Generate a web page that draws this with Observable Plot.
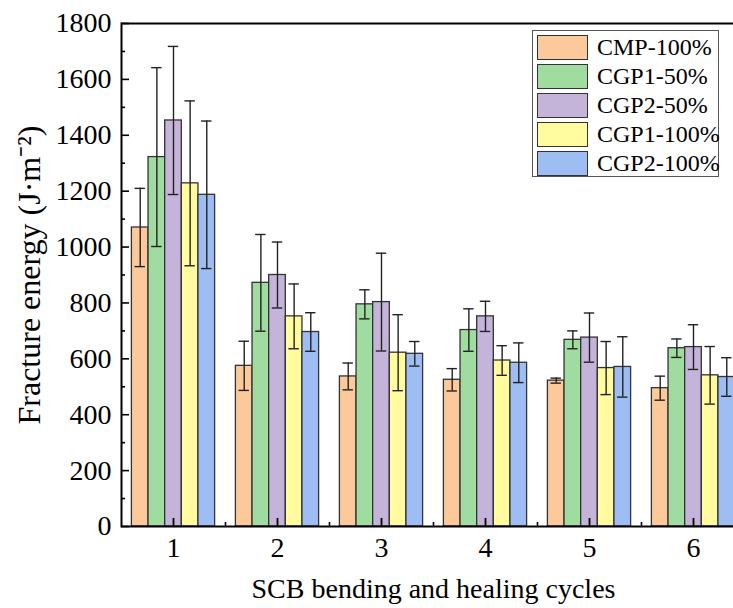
<!DOCTYPE html>
<html><head><meta charset="utf-8">
<script src="https://cdn.jsdelivr.net/npm/d3@7"></script>
<script src="https://cdn.jsdelivr.net/npm/@observablehq/plot@0.6"></script>
<style>
html,body{margin:0;padding:0;overflow:hidden;background:#fff;}
#wrap{position:relative;width:733px;height:608px;overflow:hidden;}
#legend{position:absolute;left:532px;top:30px;width:185px;height:145px;border:1.5px solid #555;background:#fff;font-family:"Liberation Serif","Times New Roman",serif;font-size:24px;color:#000;}
.row{position:absolute;left:4px;height:26px;display:flex;align-items:center;white-space:nowrap;}
.sw{width:49px;height:23px;border:1.5px solid #333;margin-right:9px;box-sizing:content-box;}
</style></head><body><div id="wrap"></div>
<script>
const cycles = [1, 2, 3, 4, 5, 6];
const series = ["CMP-100%", "CGP1-50%", "CGP2-50%", "CGP1-100%", "CGP2-100%"];
const colors = ["#FCCA9A", "#A0DBA0", "#C4B4DA", "#FFFB9E", "#9DBDF3"];

const CMP100   = [1070, 575, 537, 525, 522, 495];
const CGP1_50  = [1322, 872, 795, 703, 668, 638];
const CGP2_50  = [1453, 900, 803, 752, 676, 642];
const CGP1_100 = [1228, 752, 622, 594, 567, 541];
const CGP2_100 = [1187, 696, 618, 586, 571, 535];

const errCMP100   = [140, 88, 48, 40, 9, 43];
const errCGP1_50  = [320, 173, 52, 76, 32, 33];
const errCGP2_50  = [265, 118, 175, 54, 88, 80];
const errCGP1_100 = [295, 116, 136, 53, 95, 103];
const errCGP2_100 = [264, 69, 44, 71, 108, 69];

const yTicks = [0, 200, 400, 600, 800, 1000, 1200, 1400, 1600, 1800];
const yMinor = [100, 300, 500, 700, 900, 1100, 1300, 1500, 1700];
const xMinor = [1.5, 2.5, 3.5, 4.5, 5.5];
const xTitle = "SCB bending and healing cycles";
const yTitle = "Fracture energy (J·m⁻²)";

const values = [CMP100, CGP1_50, CGP2_50, CGP1_100, CGP2_100];
const errors = [errCMP100, errCGP1_50, errCGP2_50, errCGP1_100, errCGP2_100];

// grouped layout: 5 bars per cycle occupy 0.8 of a unit
const slot = 0.16, groupW = slot * series.length;
const table = [];
series.forEach((s, k) => cycles.forEach((c, i) => {
  const x1 = c - groupW / 2 + k * slot;
  table.push({series: s, cycle: c, x1, x2: x1 + slot, xc: x1 + slot / 2,
    value: values[k][i], lo: values[k][i] - errors[k][i], hi: values[k][i] + errors[k][i]});
}));
const cap = 0.05;

const chart = Plot.plot({
  width: 733, height: 608,
  marginLeft: 121, marginRight: -12, marginTop: 23, marginBottom: 82,
  x: {type: "linear", domain: [0.5, 6.5]},
  y: {domain: [0, 1800]},
  color: {domain: series, range: colors},
  style: {fontFamily: "'Liberation Serif', 'Times New Roman', serif", fontSize: "27px", color: "#000", background: "#fff", overflow: "hidden"},
  marks: [
    Plot.rectY(table, {x1: "x1", x2: "x2", y1: 0, y2: "value", fill: "series", stroke: "#333", strokeWidth: 1.3}),
    Plot.ruleX(table, {x: "xc", y1: "lo", y2: "hi", stroke: "#222", strokeWidth: 1.4}),
    Plot.ruleY(table, {y: "hi", x1: d => d.xc - cap, x2: d => d.xc + cap, stroke: "#222", strokeWidth: 1.4}),
    Plot.ruleY(table, {y: "lo", x1: d => d.xc - cap, x2: d => d.xc + cap, stroke: "#222", strokeWidth: 1.4}),
    Plot.axisY({ticks: yTicks, tickSize: 0, tickPadding: 10, tickFormat: d => String(d), fontSize: 28, label: null}),
    Plot.axisY({ticks: yTicks, tickSize: -8, fill: "none", label: null, strokeWidth: 1.6}),
    Plot.axisY({ticks: yMinor, tickSize: -4, fill: "none", label: null, strokeWidth: 1.6}),
    Plot.axisY({ticks: [], tickSize: 0, label: yTitle, labelAnchor: "center", labelArrow: "none", labelOffset: 104, fontSize: 32, dy: 6}),
    Plot.axisX({ticks: cycles, tickSize: 0, tickPadding: 11, tickFormat: d => String(d), fontSize: 28, label: null}),
    Plot.axisX({ticks: cycles, tickSize: -8, fill: "none", label: null, strokeWidth: 1.8}),
    Plot.axisX({ticks: xMinor, tickSize: -4, fill: "none", label: null, strokeWidth: 1.6}),
    Plot.axisX({ticks: [], tickSize: 0, label: xTitle, labelAnchor: "center", labelArrow: "none", labelOffset: 71, fontSize: 28}),
    Plot.frame({stroke: "#000", strokeWidth: 2})
  ]
});
const wrap = document.getElementById("wrap");
wrap.appendChild(chart);

const legend = document.createElement("div");
legend.id = "legend";
series.forEach((s, k) => {
  const row = document.createElement("div");
  row.className = "row";
  row.style.top = (3 + k * 29) + "px";
  const sw = document.createElement("div");
  sw.className = "sw";
  sw.style.background = colors[k];
  const t = document.createElement("span");
  t.textContent = s;
  row.appendChild(sw); row.appendChild(t);
  legend.appendChild(row);
});
wrap.appendChild(legend);
</script></body></html>
